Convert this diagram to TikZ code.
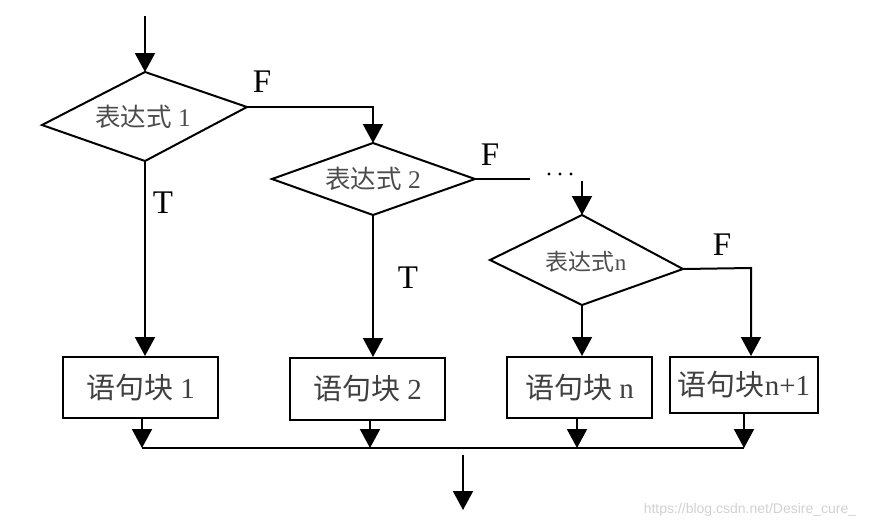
\documentclass[tikz,border=0pt]{standalone}
\usepackage{fontspec}
\setmainfont{Liberation Serif}
\newfontfamily\cjk{Noto Sans CJK SC}
\newfontfamily\wmfont{Liberation Sans}
\usetikzlibrary{arrows.meta}
\begin{document}
\begin{tikzpicture}[x=1pt,y=-1pt,line width=2pt,line join=miter,
  arr/.style={-{Triangle[length=19pt,width=20pt]}},
  box/.style={draw,line width=2pt,inner sep=0pt,anchor=center,text=black!75,
    font=\fontsize{29}{29}\selectfont},
  dtext/.style={text=black!70,font=\fontsize{25.5}{25.5}\selectfont,inner sep=0pt},
  lbl/.style={font=\fontsize{33}{33}\selectfont,inner sep=0pt}]
\useasboundingbox (0,0) rectangle (879,528);
% diamond 1
\coordinate (d1t) at (145,72);
\coordinate (d1l) at (42,125);
\coordinate (d1r) at (247,107);
\coordinate (d1b) at (145,161);
\draw (d1t) -- (d1r) -- (d1b) -- (d1l) -- cycle;
\node[dtext] (t1) at (143,117) {{\cjk 表达式} 1};
% diamond 2
\coordinate (d2t) at (373,143);
\coordinate (d2l) at (272,179);
\coordinate (d2r) at (475,179);
\coordinate (d2b) at (373,215);
\draw (d2t) -- (d2r) -- (d2b) -- (d2l) -- cycle;
\node[dtext] (t2) at (373,179) {{\cjk 表达式} 2};
% diamond n
\coordinate (d3t) at (582,215);
\coordinate (d3l) at (490,260);
\coordinate (d3r) at (683,269);
\coordinate (d3b) at (582,305);
\draw (d3t) -- (d3r) -- (d3b) -- (d3l) -- cycle;
\node[dtext,font=\fontsize{23}{23}\selectfont] (t3) at (586,262) {{\cjk 表达式}n};
% boxes
\node[box,minimum width=155pt,minimum height=61pt] (b1) at (140.5,387.5) {{\cjk 语句块} 1};
\node[box,minimum width=155pt,minimum height=62pt] (b2) at (367.5,389) {{\cjk 语句块} 2};
\node[box,minimum width=145pt,minimum height=61pt] (b3) at (579.5,387.5) {{\cjk 语句块} n};
\node[box,minimum width=148pt,minimum height=56pt] (b4) at (744,385) {{\cjk 语句块}n+1};
% connectors
\coordinate (start) at (145,16);
\draw[arr] (start) -- (d1t);
\draw[arr] (d1r) -| (d2t);
\draw[arr] (d1b) -- (d1b |- b1.north);
\draw[arr] (d2b) -- (d2b |- b2.north);
\coordinate (d2e) at (530,179);
\draw (d2r) -- (d2e);
\foreach \dx in {549,560,571} \fill (\dx,174) circle (1.6pt);
\coordinate (d3s) at (582,181);
\draw[arr] (d3s) -- (d3t);
\draw[arr] (d3b) -- (d3b |- b3.north);
\coordinate (d3c) at (751,268);
\draw[arr] (d3r) -- (d3c) -- (d3c |- b4.north);
% labels
\node[lbl] (F1) at (262,82) {F};
\node[lbl] (T1) at (163,203) {T};
\node[lbl] (F2) at (490,155) {F};
\node[lbl] (T2) at (408,278) {T};
\node[lbl] (F3) at (722,245) {F};
% bus
\coordinate (bus1) at (142,448);
\coordinate (bus2) at (370,448);
\coordinate (bus3) at (577,448);
\coordinate (bus4) at (744,448);
\draw[arr] (b1.south -| bus1) -- (bus1);
\draw[arr] (b2.south -| bus2) -- (bus2);
\draw[arr] (b3.south -| bus3) -- (bus3);
\draw[arr] (b4.south -| bus4) -- (bus4);
\draw (bus1) -- (bus4);
\coordinate (out1) at (463,455);
\coordinate (out2) at (463,510);
\draw[arr] (out1) -- (out2);
% watermark
\node[font=\wmfont\fontsize{14}{14}\selectfont,text=black!18,inner sep=0pt] (wm) at (750,510) {https://blog.csdn.net/Desire\_cure\_};
\end{tikzpicture}
\end{document}
